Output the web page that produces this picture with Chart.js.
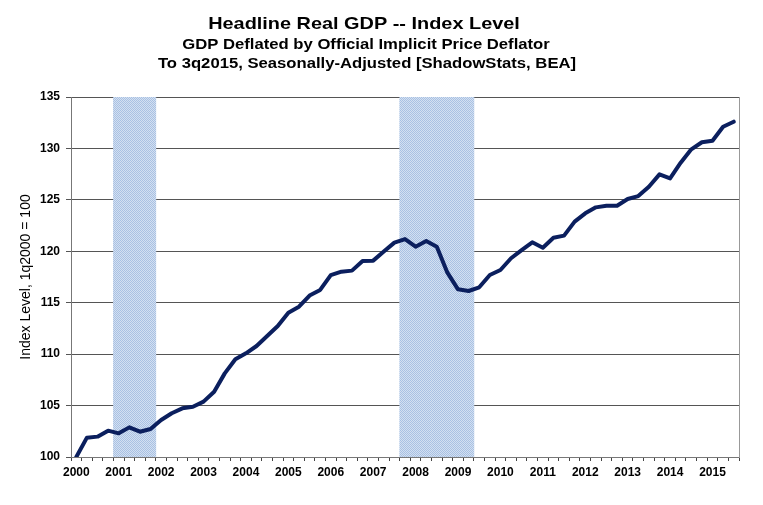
<!DOCTYPE html>
<html>
<head>
<meta charset="utf-8">
<title>Headline Real GDP -- Index Level</title>
<script src="https://cdn.jsdelivr.net/npm/chart.js@4.4.0/dist/chart.umd.min.js"></script>
<style>
  html, body { margin: 0; padding: 0; background: #fff; }
  canvas { display: block; }
</style>
</head>
<body>
<canvas id="gdpChart" width="763" height="505"></canvas>
<script>
// --- DATA (1q2000 = 100) ---
const years = [2000, 2001, 2002, 2003, 2004, 2005, 2006, 2007,
               2008, 2009, 2010, 2011, 2012, 2013, 2014, 2015];
const lastQuarter = "3q2015";

const gdpIndex = [
  100.00, 101.88, 101.98, 102.56,   // 2000
  102.30, 102.88, 102.46, 102.72,   // 2001
  103.60, 104.25, 104.73, 104.89,   // 2002
  105.38, 106.35, 108.13, 109.50,   // 2003
  110.08, 110.79, 111.76, 112.73,   // 2004
  114.03, 114.61, 115.70, 116.24,   // 2005
  117.69, 118.02, 118.12, 119.06,   // 2006
  119.09, 119.97, 120.84, 121.19,   // 2007
  120.45, 121.00, 120.45, 117.92,   // 2008
  116.30, 116.14, 116.50, 117.69,   // 2009
  118.18, 119.32, 120.12, 120.87,   // 2010
  120.35, 121.32, 121.52, 122.88,   // 2011
  123.69, 124.27, 124.43, 124.43,   // 2012
  125.08, 125.37, 126.28, 127.48,   // 2013
  127.09, 128.61, 129.91, 130.60,   // 2014
  130.75, 132.11, 132.60            // 2015
];

// recession periods (first and last quarter shaded)
const recessions = [["1q2001", "4q2001"], ["4q2007", "2q2009"]];

const yTicks = [100, 105, 110, 115, 120, 125, 130, 135];

const titleLines = [
  "Headline Real GDP -- Index Level",
  "GDP Deflated by Official Implicit Price Deflator",
  "To 3q2015, Seasonally-Adjusted [ShadowStats, BEA]"
];
const yTitle = "Index Level, 1q2000 = 100";

// --- BUILD CATEGORIES ---
const quarters = [];
years.forEach(y => {
  for (let q = 1; q <= 4; q++) {
    if (quarters.length && quarters[quarters.length - 1] === lastQuarter) return;
    quarters.push(q + "q" + y);
  }
});

const yMin = yTicks[0];
const yMax = yTicks[yTicks.length - 1];

const recessionData = quarters.map((q, i) => {
  const inside = recessions.some(([a, b]) => i >= quarters.indexOf(a) && i <= quarters.indexOf(b));
  return inside ? yMax : null;
});

// dotted light blue fill like the original shading
function makeBandPattern(ctx) {
  const c = document.createElement("canvas");
  c.width = 2; c.height = 2;
  const p = c.getContext("2d");
  p.fillStyle = "#d3e0f1"; p.fillRect(0, 0, 2, 2);
  p.fillStyle = "#a9c1e3"; p.fillRect(0, 0, 1, 1); p.fillRect(1, 1, 1, 1);
  return ctx.createPattern(c, "repeat");
}

const FONT = "Arial, 'Liberation Sans', sans-serif";

// titles drawn centred like the source image (its glyphs are wider than Arial)
function wideText(ctx, text, cx, y, stretch) {
  ctx.save();
  ctx.translate(cx, y);
  ctx.scale(stretch, 1);
  ctx.fillText(text, 0, 0);
  ctx.restore();
}

const titlePlugin = {
  id: "chartTitles",
  afterDraw(chart) {
    const ctx = chart.ctx;
    ctx.save();
    ctx.fillStyle = "#000";
    ctx.textAlign = "center";
    ctx.textBaseline = "alphabetic";
    ctx.font = "bold 17px " + FONT;
    wideText(ctx, titleLines[0], 364, 28.5, 1.17);
    ctx.font = "bold 14px " + FONT;
    wideText(ctx, titleLines[1], 366, 48.5, 1.19);
    wideText(ctx, titleLines[2], 367, 67.5, 1.19);
    ctx.restore();
  }
};

const ctx = document.getElementById("gdpChart").getContext("2d");

new Chart(ctx, {
  data: {
    labels: quarters,
    datasets: [
      {
        type: "line",
        label: "Real GDP Index",
        data: gdpIndex,
        borderColor: "#0b1f5e",
        borderWidth: 4,
        borderJoinStyle: "round",
        borderCapStyle: "round",
        pointRadius: 0,
        tension: 0,
        order: 0
      },
      {
        type: "bar",
        label: "Recession",
        data: recessionData,
        backgroundColor: makeBandPattern(ctx),
        borderWidth: 0,
        barPercentage: 1.0,
        categoryPercentage: 1.0,
        order: 1
      }
    ]
  },
  options: {
    responsive: false,
    animation: false,
    layout: { padding: { top: 97, right: 24, bottom: 0, left: 0 } },
    plugins: {
      legend: { display: false },
      tooltip: { enabled: false }
    },
    scales: {
      x: {
        type: "category",
        offset: true,
        afterFit: s => { s.height = 48; },
        grid: {
          display: true,
          offset: true,
          drawOnChartArea: false,
          drawTicks: true,
          tickLength: 4,
          color: "#444"
        },
        border: { display: true, color: "#777" },
        ticks: {
          autoSkip: false,
          maxRotation: 0,
          minRotation: 0,
          padding: 4,
          color: "#000",
          font: { family: FONT, size: 12, weight: "bold" },
          callback: function (v) {
            const q = this.getLabelForValue(v);
            return q.startsWith("1q") ? q.slice(2) : "";
          }
        }
      },
      y: {
        position: "left",
        min: yMin,
        max: yMax,
        afterFit: s => { s.width = 71; },
        afterBuildTicks: s => { s.ticks = yTicks.map(v => ({ value: v })); },
        grid: {
          color: "#555",
          lineWidth: 1,
          drawTicks: true,
          tickLength: 5
        },
        border: { display: true, color: "#777" },
        ticks: {
          padding: 6,
          color: "#000",
          font: { family: FONT, size: 12, weight: "bold" }
        },
        title: {
          display: true,
          text: yTitle,
          color: "#000",
          font: { family: FONT, size: 14 },
          padding: { top: 18, bottom: 0 }
        }
      },
      y2: {
        position: "right",
        min: yMin,
        max: yMax,
        afterFit: s => { s.width = 0; },
        grid: { drawOnChartArea: false, drawTicks: false },
        border: { display: true, color: "#999" },
        ticks: { display: false }
      }
    }
  },
  plugins: [titlePlugin]
});
</script>
</body>
</html>
